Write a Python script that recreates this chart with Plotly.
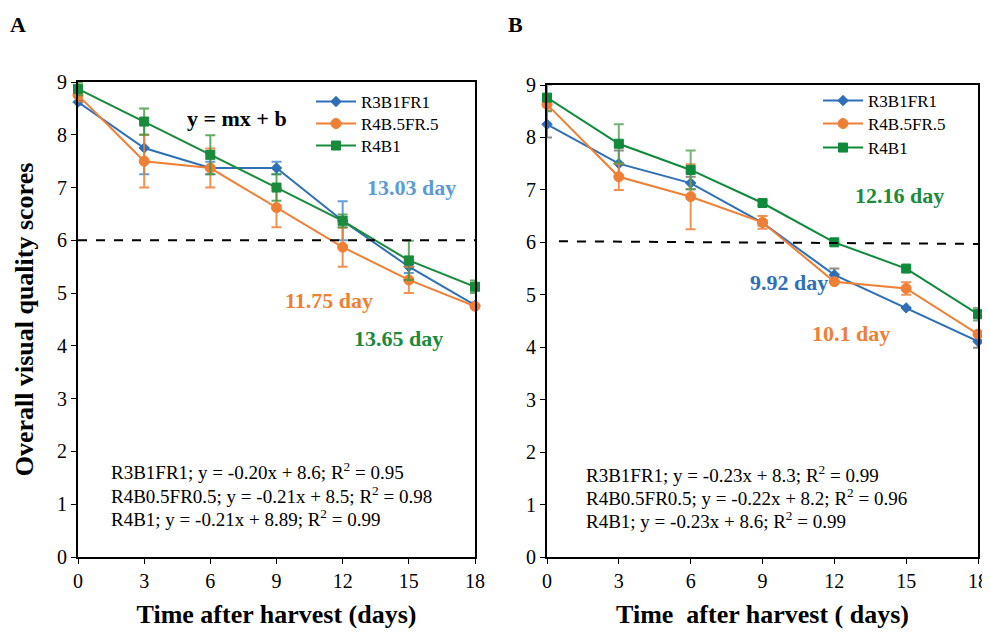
import plotly.graph_objects as go

days = [0, 3, 6, 9, 12, 15, 18]
series_names = ["R3B1FR1", "R4B.5FR.5", "R4B1"]

# Panel A
a_blue = [8.62, 7.75, 7.37, 7.37, 6.37, 5.5, 4.77]
a_blue_err = [0.05, 0.5, 0.12, 0.12, 0.37, 0.12, 0.05]
a_orange = [8.75, 7.5, 7.37, 6.62, 5.87, 5.25, 4.75]
a_orange_err = [0.12, 0.5, 0.37, 0.37, 0.37, 0.25, 0.0]
a_green = [8.87, 8.25, 7.62, 7.0, 6.37, 5.62, 5.12]
a_green_err = [0.12, 0.25, 0.37, 0.25, 0.12, 0.37, 0.12]

# Panel B
b_blue = [8.25, 7.5, 7.13, 6.37, 5.38, 4.75, 4.11]
b_blue_err = [0.25, 0.25, 0.12, 0.05, 0.12, 0.0, 0.12]
b_orange = [8.63, 7.25, 6.87, 6.38, 5.25, 5.12, 4.25]
b_orange_err = [0.12, 0.25, 0.62, 0.12, 0.0, 0.12, 0.0]
b_green = [8.76, 7.88, 7.38, 6.75, 6.0, 5.5, 4.63]
b_green_err = [0.25, 0.37, 0.37, 0.05, 0.0, 0.0, 0.12]

threshold_a = [6.0, 6.0]
threshold_b = [6.02, 5.97]

eq_a = ["R3B1FR1; y = -0.20x + 8.6; R<sup>2</sup> = 0.95",
        "R4B0.5FR0.5; y = -0.21x + 8.5; R<sup>2</sup> = 0.98",
        "R4B1; y = -0.21x + 8.89; R<sup>2</sup> = 0.99"]
eq_b = ["R3B1FR1; y = -0.23x + 8.3; R<sup>2</sup> = 0.99",
        "R4B0.5FR0.5; y = -0.22x + 8.2; R<sup>2</sup> = 0.96",
        "R4B1; y = -0.23x + 8.6; R<sup>2</sup> = 0.99"]

BLUE = "#2e6fb7"
ORANGE = "#ef7f35"
GREEN = "#1a8a3c"
FONT = "Liberation Serif"

# page body has an 8px default margin; figure is sized to fit inside the window
OFF = 8
W, H = 990 - OFF, 637 - 2 * OFF
ML, MR, MT, MB = 78 - OFF, W - (978 - OFF), 82 - OFF, H - (557 - OFF)
PW, PH = W - ML - MR, H - MT - MB


def px(x):
    return (x - OFF - ML) / PW


def py(y):
    return (H - MB - (y - OFF)) / PH


fig = go.Figure()


def add_series(x, y, err, name, color, symbol, size, xa, ya, legend, errcolor):
    fig.add_trace(go.Scatter(
        x=x, y=y, name=name, mode="lines+markers",
        line=dict(color=color, width=2),
        marker=dict(color=color, symbol=symbol, size=size,
                    line=dict(color=color, width=1)),
        error_y=dict(type="data", array=err, visible=True, color=errcolor,
                     thickness=2, width=5),
        xaxis=xa, yaxis=ya, legend=legend, cliponaxis=False))


add_series(days, a_blue, a_blue_err, series_names[0], BLUE, "diamond", 8, "x", "y", "legend", "rgba(70,140,210,0.85)")
add_series(days, a_orange, a_orange_err, series_names[1], ORANGE, "circle", 10, "x", "y", "legend2", "rgba(239,127,53,0.85)")
add_series(days, a_green, a_green_err, series_names[2], GREEN, "square-x", 9, "x", "y", "legend3", "rgba(60,150,60,0.8)")

add_series(days, b_blue, b_blue_err, series_names[0], BLUE, "diamond", 8, "x2", "y2", "legend4", "rgba(110,110,110,0.8)")
add_series(days, b_orange, b_orange_err, series_names[1], ORANGE, "circle", 10, "x2", "y2", "legend5", "rgba(239,127,53,0.85)")
add_series(days, b_green, b_green_err, series_names[2], "#0e8a3a", "square", 9, "x2", "y2", "legend6", "rgba(80,160,80,0.8)")

fig.add_trace(go.Scatter(x=[0, 18], y=threshold_a, mode="lines", showlegend=False,
                         line=dict(color="black", width=2, dash="dash"), xaxis="x", yaxis="y",
                         hoverinfo="skip"))
fig.add_trace(go.Scatter(x=[0.5, 18], y=threshold_b, mode="lines", showlegend=False,
                         line=dict(color="black", width=2, dash="dash"), xaxis="x2", yaxis="y2",
                         hoverinfo="skip"))

axis_common = dict(range=[0, 18], tickvals=days, showline=True, linecolor="black", linewidth=2,
                   mirror=True, ticks="outside", ticklen=5, tickcolor="black", tickwidth=1,
                   showgrid=False, zeroline=False, automargin=False, ticklabeloverflow="allow",
                   tickfont=dict(family=FONT, size=20, color="black"))
yaxis_common = dict(range=[0, 9], dtick=1, showline=True, linecolor="black", linewidth=2,
                    mirror=True, ticks="outside", ticklen=5, tickcolor="black", tickwidth=1,
                    showgrid=False, zeroline=False, automargin=False,
                    tickfont=dict(family=FONT, size=20, color="black"))

TITLE_FONT = dict(family=FONT, size=26, color="black")

legend_common = dict(font=dict(family=FONT, size=17, color="black"), bgcolor="rgba(0,0,0,0)",
                     xanchor="left", yanchor="middle", itemwidth=40)

fig.update_layout(
    width=W, height=H, margin=dict(l=ML, r=MR, t=MT, b=MB, autoexpand=False),
    plot_bgcolor="white", paper_bgcolor="white",
    xaxis=dict(axis_common, domain=[px(78), px(475)], anchor="y",
               title=dict(text="<b>Time after harvest (days)</b>", font=TITLE_FONT, standoff=24)),
    yaxis=dict(yaxis_common, domain=[py(557), py(82)], anchor="x",
               title=dict(text="<b>Overall visual quality scores</b>", font=TITLE_FONT, standoff=16)),
    xaxis2=dict(axis_common, domain=[px(547), px(978)], anchor="y2",
                title=dict(text="<b>Time  after harvest ( days)</b>", font=TITLE_FONT, standoff=24)),
    yaxis2=dict(yaxis_common, domain=[py(557), py(85)], anchor="x2"),
    legend=dict(legend_common, x=px(311), y=py(102)),
    legend2=dict(legend_common, x=px(311), y=py(124)),
    legend3=dict(legend_common, x=px(311), y=py(146)),
    legend4=dict(legend_common, x=px(818), y=py(101)),
    legend5=dict(legend_common, x=px(818), y=py(124)),
    legend6=dict(legend_common, x=px(818), y=py(148)),
    showlegend=True,
)

ann = []


def label(text, x, y, size, color, xanchor="center"):
    ann.append(dict(text=text, x=px(x), y=py(y), xref="paper", yref="paper", showarrow=False,
                    xanchor=xanchor, yanchor="middle", font=dict(family=FONT, size=size, color=color)))


label("<b>A</b>", 8, 24, 22, "black", "left")
label("<b>B</b>", 506, 24, 22, "black", "left")
label("<b>y = mx + b</b>", 237, 118, 22, "black")
label("<b>13.03 day</b>", 411, 187, 22, "#5b9bd5")
label("<b>11.75 day</b>", 329, 300, 22, ORANGE)
label("<b>13.65 day</b>", 398, 338, 22, GREEN)
label("<b>12.16 day</b>", 899, 195, 22, GREEN)
label("<b>9.92 day</b>", 789, 282, 22, BLUE)
label("<b>10.1 day</b>", 851, 333, 22, ORANGE)
for i, t in enumerate(eq_a):
    label(t, 109, 471 + 23.5 * i, 19, "black", "left")
for i, t in enumerate(eq_b):
    label(t, 584, 474 + 23 * i, 19, "black", "left")
fig.update_layout(annotations=ann)

fig.write_html("out.html")
